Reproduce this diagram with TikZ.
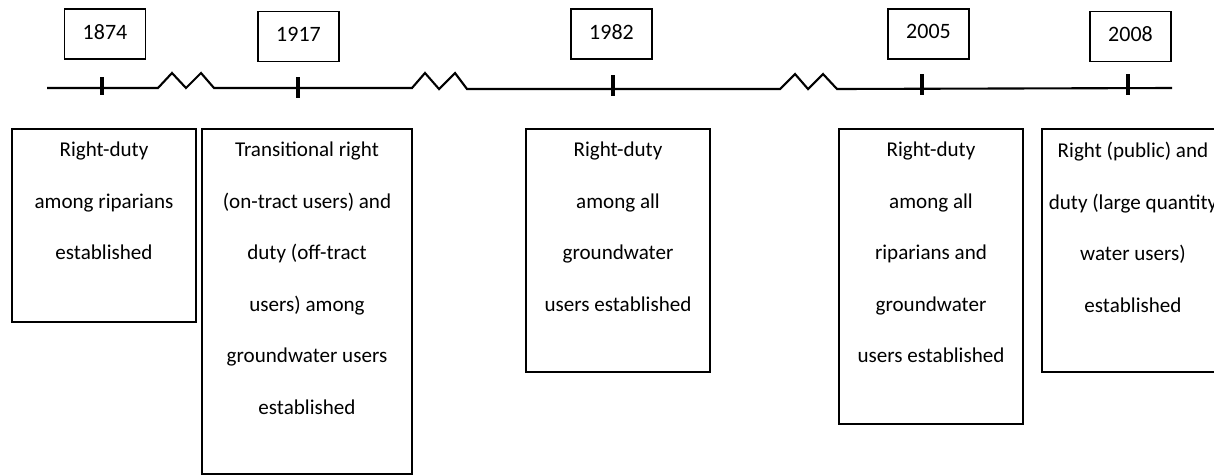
\documentclass[tikz,border=0pt]{standalone}
\usepackage{fontspec}
\setmainfont{Carlito}
\usetikzlibrary{positioning}

\begin{document}
\begin{tikzpicture}[x=0.02cm,y=-0.02cm,line join=miter]

  \tikzstyle{year}=[rectangle,draw,line width=1pt,minimum width=1.62cm,
    minimum height=1cm,text depth=0.1cm,font=\fontsize{12.5}{14}\selectfont]
  \tikzstyle{event}=[rectangle,draw,line width=1pt,anchor=north,inner sep=0pt]
  \tikzstyle{eventtext}=[align=center,inner sep=0pt,
    font=\fontsize{12}{29.3}\selectfont]
  \tikzstyle{axis}=[line width=1.2pt]
  \tikzstyle{tick}=[line width=2.3pt]

  %% \draw [help lines,step=50] (0,0) grid (1214,474);
  \clip (0,0) rectangle (1214,474);

  \node  (y1874) at (105,34)    [year]  {1874};
  \node  (y1917) at (298.5,36.5) [year] {1917};
  \node  (y1982) at (611.5,34)  [year]  {1982};
  \node  (y2005) at (928.5,34)  [year]  {2005};
  \node  (y2008) at (1130.5,36.5) [year] {2008};

  % the time axis, with breaks
  \draw [axis] (47,88) -- (158,88) -- (172,73) -- (186,88) -- (201,73) -- (214,88)
        -- (412,88) -- (425,73) -- (439,89) -- (455,73) -- (467,89)
        -- (780,89) -- (795,74) -- (808,89) -- (823,74) -- (837,89) -- (1172,88);
  \foreach \x/\a/\b in {102/77/95,298/77/98,613/75/96,922/74/95,1128/74/95}
    \draw [tick] (\x,\a) -- (\x,\b);

  \node  (e1874) at (104,128)  [event,minimum width=3.68cm,minimum height=3.86cm] {};
  \node  (e1917) at (307,128)  [event,minimum width=4.2cm,minimum height=6.9cm]   {};
  \node  (e1982) at (618,128)  [event,minimum width=3.68cm,minimum height=4.86cm] {};
  \node  (e2005) at (931,128)  [event,minimum width=3.68cm,minimum height=5.9cm]  {};
  \node  (e2008) at (1133,128) [event,minimum width=3.64cm,minimum height=4.86cm] {};

  \node  (t1874) [eventtext,below=0.28cm of e1874.north]
         {Right-duty\\among riparians\\established};
  \node  (t1917) [eventtext,below=0.28cm of e1917.north]
         {Transitional right\\(on-tract users) and\\duty (off-tract\\users) among\\groundwater users\\established};
  \node  (t1982) [eventtext,below=0.28cm of e1982.north]
         {Right-duty\\among all\\groundwater\\users established};
  \node  (t2005) [eventtext,below=0.28cm of e2005.north]
         {Right-duty\\among all\\riparians and\\groundwater\\users established};
  \node  (t2008) [eventtext,below=0.28cm of e2008.north]
         {Right (public) and\\duty (large quantity\\water users)\\established};
\end{tikzpicture}
\end{document}
